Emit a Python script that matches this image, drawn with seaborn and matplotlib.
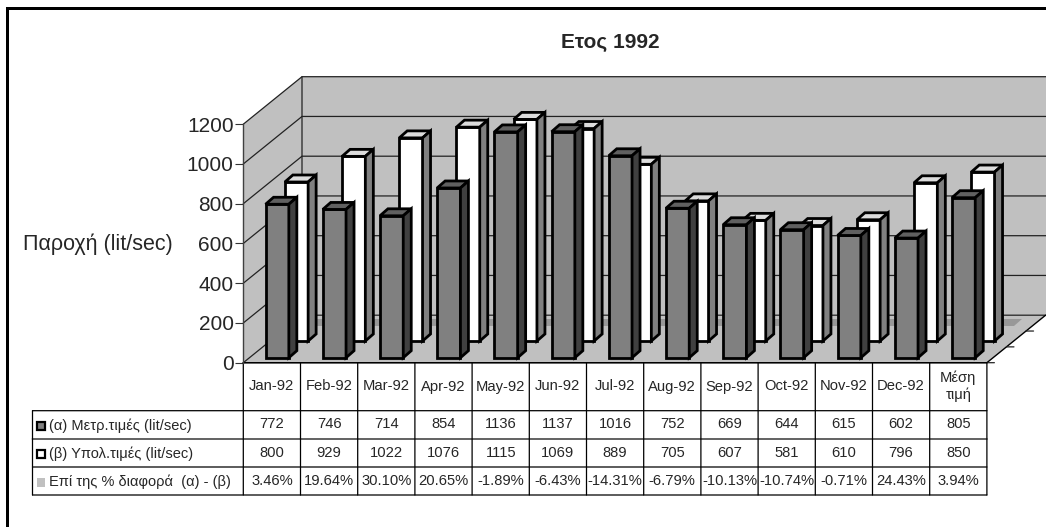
import matplotlib
matplotlib.use('Agg')
import matplotlib.pyplot as plt
import seaborn as sns
from matplotlib.lines import Line2D
from matplotlib.patches import Polygon, Rectangle
from matplotlib.transforms import Affine2D, IdentityTransform

W, H = 1046, 527

months = ['Jan-92', 'Feb-92', 'Mar-92', 'Apr-92', 'May-92', 'Jun-92', 'Jul-92',
          'Aug-92', 'Sep-92', 'Oct-92', 'Nov-92', 'Dec-92', 'Μέση\nτιμή']
measured = [772, 746, 714, 854, 1136, 1137, 1016, 752, 669, 644, 615, 602, 805]
computed = [800, 929, 1022, 1076, 1115, 1069, 889, 705, 607, 581, 610, 796, 850]
percent = [3.46, 19.64, 30.10, 20.65, -1.89, -6.43, -14.31, -6.79, -10.13, -10.74,
           -0.71, 24.43, 3.94]
percent_labels = ['3.46%', '19.64%', '30.10%', '20.65%', '-1.89%', '-6.43%', '-14.31%',
                  '-6.79%', '-10.13%', '-10.74%', '-0.71%', '24.43%', '3.94%']
y_ticks = [0, 200, 400, 600, 800, 1000, 1200]
row_names = ['(α) Μετρ.τιμές (lit/sec)', '(β) Υπολ.τιμές (lit/sec)',
             'Επί της % διαφορά  (α) - (β)']

sns.set_style('white')
plt.rcParams['font.family'] = ['Liberation Sans', 'DejaVu Sans']

fig = plt.figure(figsize=(W / 100, H / 100), dpi=100, facecolor='white')
ax = fig.add_axes([243.3 / W, (H - 362.7) / H, 743.6 / W, 238.5 / H])
ax.patch.set_visible(False)
pixel = IdentityTransform()


def py(y):
    # y measured from the top of the picture -> display coords
    return H - y


def poly(points, color, z, edge='none', lw=0):
    ax.add_patch(Polygon(points, closed=True, facecolor=color, edgecolor=edge, linewidth=lw,
                         transform=pixel, clip_on=False, zorder=z, joinstyle='miter'))


def line(xs, ys, color='black', lw=0.8, z=2, snap=False):
    ln = Line2D(xs, ys, color=color, linewidth=lw, transform=pixel, clip_on=False, zorder=z)
    ln.set_snap(snap)
    ax.add_line(ln)


def draw_row(values, color, top, side, shift, z, edge='black', lw=2.0, depth=(8, 7)):
    start = len(ax.patches)
    sns.barplot(x=months, y=values, color=color, saturation=1, width=0.407,
                edgecolor=edge, linewidth=lw, ax=ax)
    # seaborn resets the limits, the pixel faces below need the final ones
    ax.set_xlim(-0.5, 12.5)
    ax.set_ylim(0, 1200)
    for bar in ax.patches[start:]:
        moved = ax.transData + Affine2D().translate(*shift)
        bar.set_transform(moved)
        bar.set_clip_on(False)
        bar.set_zorder(z)
        bar.set_joinstyle('miter')
        x0, y0 = moved.transform((bar.get_x(), 0))
        x1, y1 = moved.transform((bar.get_x() + bar.get_width(), max(bar.get_height(), 0)))
        dx, dy = depth
        poly([(x0, y1), (x1, y1), (x1 + dx, y1 + dy), (x0 + dx, y1 + dy)], top, z, edge, lw)
        poly([(x1, y0), (x1, y1), (x1 + dx, y1 + dy), (x1 + dx, y0 + dy)], side, z, edge, lw)


draw_row([p / 100 for p in percent], '#989898', '#989898', '#989898', (44, 36.7), 3, edge='none', lw=0)
draw_row(computed, 'white', '#dcdcdc', '#808080', (24.6, 21.7), 4)
draw_row(measured, '#808080', '#606060', '#404040', (5.3, 5), 5)

ax.set_yticks(y_ticks)
ax.set_xticks([])
ax.set_xlabel('')
ax.tick_params(axis='y', left=True, length=6, width=0.8, color='#333333', labelsize=15, pad=1)
for name in ['top', 'right', 'bottom']:
    ax.spines[name].set_visible(False)
ax.spines['left'].set_color('#404040')
ax.spines['left'].set_linewidth(1.0)
ax.set_ylabel('Παροχή (lit/sec)', rotation=0, fontsize=15.5, ha='center', va='center')
ax.yaxis.set_label_coords(97.5, py(244), transform=pixel)

# walls and floor
x_l, y_b = ax.transData.transform((-0.5, 0))
x_r, _ = ax.transData.transform((12.5, 0))
_, y_t = ax.transData.transform((-0.5, 1200))
back_dx, back_dy = 58.7, 47.5
poly([(x_l, y_t), (x_l + back_dx, y_t + back_dy), (x_l + back_dx, y_b + back_dy), (x_l, y_b)], '#c0c0c0', 1)
poly([(x_l + back_dx, y_t + back_dy), (W, y_t + back_dy), (W, y_b + back_dy), (x_l + back_dx, y_b + back_dy)], '#c0c0c0', 1)
poly([(x_l, y_b), (x_r, y_b), (x_r + back_dx, y_b + back_dy), (x_l + back_dx, y_b + back_dy)], '#c0c0c0', 1)
for tick in y_ticks:
    _, y_v = ax.transData.transform((-0.5, tick))
    line([x_l, x_l + back_dx, W], [y_v, y_v + back_dy, y_v + back_dy], color='#222222', lw=0.9)
line([x_l + back_dx, x_l + back_dx], [y_b + back_dy, y_t + back_dy], color='#222222', lw=0.9)
line([x_l, x_r, x_r + back_dx], [y_b, y_b, y_b + back_dy], color='black', lw=1.0, z=2)
for frac in [0, 1 / 3, 2 / 3]:
    tx = x_r + back_dx * frac
    ty = y_b + back_dy * frac
    line([tx, tx + 7.5], [ty, ty], color='#222222', lw=0.9)

# data table under the chart
row_y = [362.7, 410.7, 439, 467, 495]
left_x = 32.5
for i, y in enumerate(row_y):
    start = x_l if i == 0 else left_x
    line([start, x_r], [py(y), py(y)], color='#555555' if i == 2 else 'black', lw=1.3 if i == 2 else 0.9)
line([left_x, left_x], [py(410.7), py(495)], color='black', lw=0.9)
for i in range(14):
    xv, _ = ax.transData.transform((i - 0.5, 0))
    line([xv, xv], [py(362.7), py(495)], color='black', lw=0.9)
for i, month in enumerate(months):
    xc, _ = ax.transData.transform((i, 0))
    ax.text(xc, py(386.5), month, transform=pixel, fontsize=10.6, ha='center', va='center', linespacing=1.25)
    ax.text(xc, py(424), str(measured[i]), transform=pixel, fontsize=10.6, ha='center', va='center')
    ax.text(xc, py(453), str(computed[i]), transform=pixel, fontsize=10.6, ha='center', va='center')
    ax.text(xc, py(481), percent_labels[i], transform=pixel, fontsize=10.6, ha='center', va='center')

# legend keys + names in the first column
key_rows = [(426, '#808080', 'black', 1.6), (454, 'white', 'black', 1.6), (482.5, '#c0c0c0', 'none', 0)]
for (y, face, edge, lw), name in zip(key_rows, row_names):
    ax.add_patch(Rectangle((36.5, py(y + 4.2)), 8.4, 8.4, facecolor=face, edgecolor=edge, linewidth=lw,
                           transform=pixel, clip_on=False, zorder=5))
    ax.text(49, py(y - 0.5), name, transform=pixel, fontsize=10.5, ha='left', va='center')

ax.text(610, py(43), 'Ετος 1992', transform=pixel, fontsize=15, fontweight='bold', ha='center', va='center')

# frame: only left and top edges show up in the picture
fig.add_artist(Rectangle((6, 0), 3.4, H - 7, facecolor='black', edgecolor='none', transform=pixel))
fig.add_artist(Rectangle((6, H - 10.2), W, 3.4, facecolor='black', edgecolor='none', transform=pixel))

fig.savefig('out.png', dpi=100, facecolor='white')
